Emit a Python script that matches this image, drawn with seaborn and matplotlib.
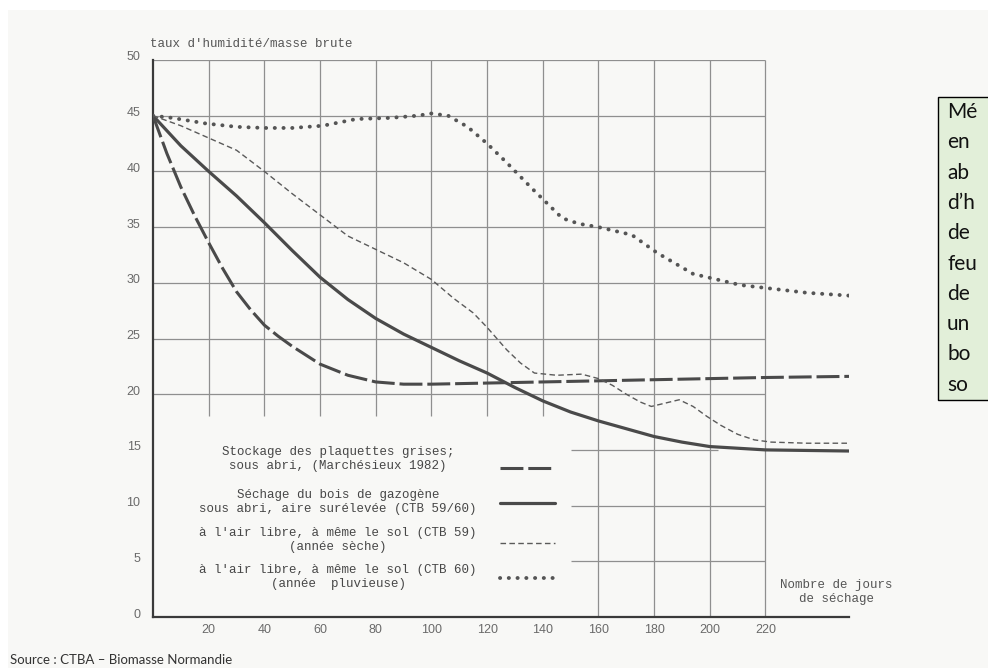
import matplotlib
matplotlib.use("Agg")
import matplotlib.pyplot as plt
from matplotlib.patches import Rectangle
from matplotlib.lines import Line2D
from matplotlib.transforms import ScaledTranslation
import seaborn as sns

sns.set_style("white")
plt.rcParams["font.family"] = ["DejaVu Sans"]

# --- data: moisture content (% of raw mass) vs. drying days ---
days_plaquettes = [0, 5, 10, 15, 20, 25, 30, 35, 40, 45, 50, 60, 70, 80, 90, 100,
                   120, 140, 160, 180, 200, 220, 250]
hum_plaquettes = [45, 41.6, 38.6, 36.0, 33.6, 31.3, 29.2, 27.6, 26.2, 25.2, 24.3,
                  22.7, 21.7, 21.1, 20.9, 20.9, 21.0, 21.1, 21.2, 21.3, 21.4, 21.5, 21.6]

days_gazogene = [0, 10, 20, 30, 40, 50, 60, 70, 80, 90, 100, 110, 120, 130, 140,
                 150, 160, 170, 180, 190, 200, 220, 250]
hum_gazogene = [45, 42.3, 40.0, 37.8, 35.4, 32.9, 30.5, 28.5, 26.8, 25.4, 24.2, 23.0,
                21.9, 20.6, 19.4, 18.4, 17.6, 16.9, 16.2, 15.7, 15.3, 15.0, 14.9]

days_seche = [0, 10, 20, 30, 40, 50, 60, 70, 80, 90, 100, 108, 115, 120, 127, 132,
              137, 145, 154, 160, 165, 170, 175, 179, 184, 189, 194, 199, 204, 210,
              216, 222, 235, 250]
hum_seche = [45, 44.1, 43.0, 41.9, 40.0, 38.0, 36.1, 34.2, 33.0, 31.8, 30.3, 28.6,
             27.3, 26.0, 24.0, 22.8, 21.9, 21.7, 21.8, 21.4, 20.8, 20.0, 19.3, 18.9,
             19.2, 19.5, 18.9, 18.0, 17.2, 16.4, 15.9, 15.7, 15.6, 15.6]

days_pluvieuse = [0, 7, 19, 30, 40, 50, 61, 73, 85, 95, 100, 106, 113, 120, 127, 136,
                  147, 153, 160, 172, 181, 194, 211, 235, 253]
hum_pluvieuse = [45, 44.8, 44.3, 44.0, 43.9, 43.9, 44.1, 44.7, 44.8, 45.0, 45.2, 45.0,
                 44.0, 42.5, 40.8, 38.5, 35.8, 35.3, 35.0, 34.3, 32.7, 30.8, 29.8,
                 29.1, 28.8]

x_ticks = [20, 40, 60, 80, 100, 120, 140, 160, 180, 200, 220]
y_ticks = [0, 5, 10, 15, 20, 25, 30, 35, 40, 45, 50]

legend_labels = [
    "Stockage des plaquettes grises;\nsous abri, (Marchésieux 1982)",
    "Séchage du bois de gazogène\nsous abri, aire surélevée (CTB 59/60)",
    "à l'air libre, à même le sol (CTB 59)\n(année sèche)",
    "à l'air libre, à même le sol (CTB 60)\n(année  pluvieuse)",
]
box_lines = ["Mé", "en", "ab", "d’h", "de", "feu", "de", "un", "bo", "so"]

# --- styles ---
INK = "#4a4a4a"
GRID = "#8f8f8f"
MONO = "Liberation Mono"
styles = [
    dict(color=INK, lw=2.2, linestyle=(0, (7.5, 1.6))),
    dict(color=INK, lw=2.3, linestyle="-"),
    dict(color="#5a5a5a", lw=1.0, linestyle=(0, (4.0, 2.4))),
    dict(color="#555555", lw=2.8, linestyle=(0, (0.05, 2.2)), dash_capstyle="round"),
]

W, H = 988, 668
fig = plt.figure(figsize=(W / 100, H / 100), dpi=100, facecolor="#f8f8f6")


def fx(px):
    return px / W


def fy(py):
    return 1 - py / H


# paper edge of the scan
fig.patches.append(Rectangle((0, fy(10)), 1, 10 / H, transform=fig.transFigure,
                             facecolor="white", edgecolor="none", zorder=0))
fig.patches.append(Rectangle((0, 0), 8 / W, 1, transform=fig.transFigure,
                             facecolor="white", edgecolor="none", zorder=0))

ax = fig.add_axes([fx(153), fy(617), (849 - 153) / W, (617 - 60) / H])
ax.set_facecolor("none")
ax.set_xlim(0, 250)
ax.set_ylim(0, 50)

# grid drawn as partial segments, leaving the legend area free
for y in [20, 25, 30, 35, 40, 45, 50]:
    ax.hlines(y, 0, 220, color=GRID, lw=0.9, zorder=1)
ax.hlines(15, 150, 203, color=GRID, lw=0.9, zorder=1)
for y in [5, 10]:
    ax.hlines(y, 150, 220, color=GRID, lw=0.9, zorder=1)
for x in [20, 40, 60, 80, 100, 120, 140]:
    ax.vlines(x, 18, 50, color=GRID, lw=0.9, zorder=1)
for x in [160, 180, 200, 220]:
    ax.vlines(x, 0, 50, color=GRID, lw=0.9, zorder=1)

series = [(days_plaquettes, hum_plaquettes), (days_gazogene, hum_gazogene),
          (days_seche, hum_seche), (days_pluvieuse, hum_pluvieuse)]
for (xs, ys), st in zip(series, styles):
    sns.lineplot(x=xs, y=ys, ax=ax, sort=False, estimator=None, zorder=3, **st)

for side in ["top", "right"]:
    ax.spines[side].set_visible(False)
for side in ["left", "bottom"]:
    ax.spines[side].set_color("#3a3a3a")
    ax.spines[side].set_linewidth(1.6)
ax.spines["left"].set_bounds(0, 50)

ax.set_xticks(x_ticks)
ax.set_xticklabels([str(v) for v in x_ticks])
ax.set_yticks(y_ticks)
ax.set_yticklabels([str(v) for v in y_ticks])
ax.tick_params(length=0, labelsize=9, labelcolor="#6a6a6a")
ax.tick_params(axis="x", pad=5)
ax.tick_params(axis="y", pad=9)
for lab in ax.get_xticklabels() + ax.get_yticklabels():
    lab.set_fontfamily("Liberation Sans")
lift = ScaledTranslation(0, 0.04, fig.dpi_scale_trans)
for lab in ax.get_yticklabels():
    lab.set_transform(lab.get_transform() + lift)

fig.text(fx(150), fy(44), "taux d'humidité/masse brute", family=MONO, size=9,
         color="#555555", va="center", ha="left")
fig.text(fx(836), fy(592), "Nombre de jours\nde séchage", family=MONO, size=9,
         color="#555555", va="center", ha="center", linespacing=1.15)

# legend: centred labels with line samples on the right
label_y = [459, 502, 540, 577]
key_y = [468, 503, 543, 578]
for lab, ty, ky, st in zip(legend_labels, label_y, key_y, styles):
    fig.text(fx(338), fy(ty), lab, family=MONO, size=9, color="#474747",
             ha="center", va="center", multialignment="center", linespacing=1.15)
    fig.add_artist(Line2D([fx(500), fx(555)], [fy(ky), fy(ky)],
                          transform=fig.transFigure, **st))

# side note box
fig.patches.append(Rectangle((fx(938), fy(400)), 80 / W, (400 - 97) / H,
                             transform=fig.transFigure, facecolor="#e2efd9",
                             edgecolor="black", lw=1.0, zorder=2))
for i, t in enumerate(box_lines):
    fig.text(fx(947), fy(112 + i * 30.3), t, family="Lato", size=15,
             color="#111111", va="center", ha="left", zorder=3)

fig.text(fx(10), fy(660), "Source : CTBA – Biomasse Normandie", family="Lato",
         size=9.5, color="#333333", va="center", ha="left")

fig.savefig("out.png", dpi=100, facecolor=fig.get_facecolor())
